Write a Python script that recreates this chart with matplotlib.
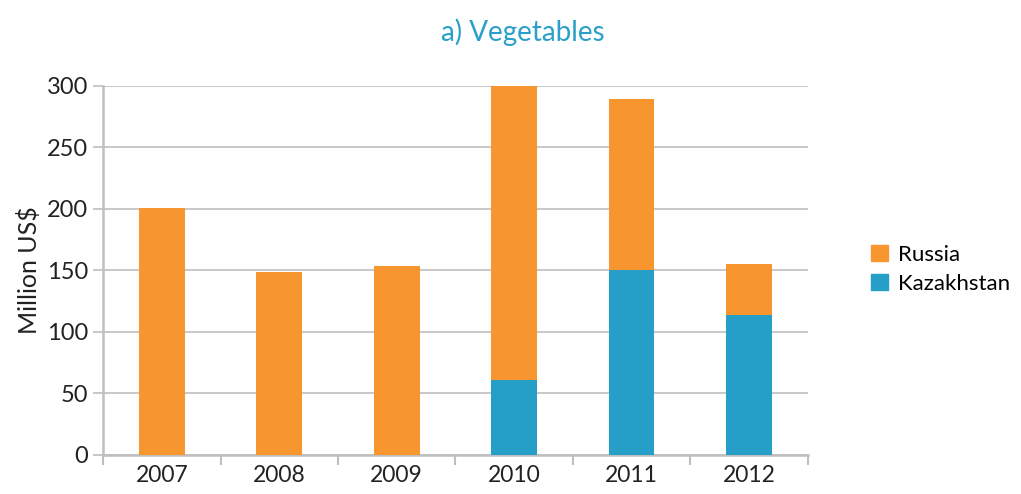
import numpy as np
import matplotlib
matplotlib.use('Agg')
import matplotlib.pyplot as plt
from matplotlib.patches import Patch

plt.rcParams['font.family'] = ['Lato', 'DejaVu Sans']

years = ['2007', '2008', '2009', '2010', '2011', '2012']
kazakhstan = [0, 0, 0, 61, 150, 114]
russia = [201, 149, 154, 239, 139, 41]

c_rus = '#F7962F'
c_kaz = '#259FC8'
grid_c = '#BFBFBF'
txt_c = '#222222'

fig = plt.figure(figsize=(10.21, 4.94), dpi=100)
ax = fig.add_axes([0.101, 0.079, 0.690, 0.747])

x = np.arange(len(years))
ax.bar(x, kazakhstan, width=0.39, color=c_kaz, zorder=3)
ax.bar(x, russia, width=0.39, bottom=kazakhstan, color=c_rus, zorder=3)

ax.set_xlim(-0.5, len(years) - 0.5)
ax.set_ylim(0, 300)
ax.set_yticks(range(0, 301, 50))
ax.yaxis.grid(True, color=grid_c, linewidth=1.2, zorder=0)

ax.set_xticks(x)
ax.set_xticklabels(years, fontsize=16.5, color=txt_c)
ax.tick_params(axis='x', length=0, pad=7)
ax.set_xticks(np.arange(-0.5, len(years)), minor=True)
ax.tick_params(axis='x', which='minor', length=7, width=1.5, color=grid_c)
ax.tick_params(axis='y', labelsize=17, labelcolor=txt_c, length=7, width=1.2,
               color=grid_c, pad=4)

for s in ['top', 'right']:
    ax.spines[s].set_visible(False)
for s in ['left', 'bottom']:
    ax.spines[s].set_color(grid_c)
    ax.spines[s].set_linewidth(1.8)

ax.set_ylabel('Million US$', fontsize=18, color=txt_c, labelpad=4)

fig.text(0.512, 0.935, 'a) Vegetables', ha='center', va='center',
         fontsize=20, color='#2A9FC9')

handles = [Patch(color=c_rus, label='Russia'), Patch(color=c_kaz, label='Kazakhstan')]
fig.legend(handles=handles, loc='center left', bbox_to_anchor=(0.853, 0.455),
           frameon=False, fontsize=16, handlelength=0.75, handleheight=0.75,
           handletextpad=0.45, labelspacing=0.4, borderaxespad=0, borderpad=0)

fig.savefig('out.png', dpi=100)
